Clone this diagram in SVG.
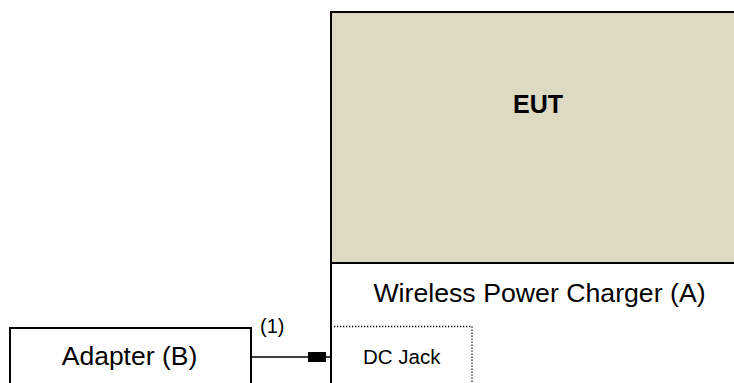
<svg xmlns="http://www.w3.org/2000/svg" width="734" height="383" viewBox="0 0 734 383">
<style>
.box{fill:#fff;stroke:#000;stroke-width:2}
.t{font-family:"Liberation Sans",Arial,sans-serif;fill:#000}
</style>
<rect width="734" height="383" fill="#fff"/>
<g id="charger">
<rect class="box" x="331" y="263" width="420" height="140"/>
<text class="t" x="539.5" y="302" font-size="26.7" text-anchor="middle">Wireless Power Charger (A)</text>
</g>
<g id="eut">
<rect class="box" x="331" y="12" width="420" height="251" style="fill:#ddd9c3"/>
<text class="t" x="538" y="113" font-size="25" font-weight="bold" text-anchor="middle">EUT</text>
</g>
<g id="dcjack">
<path d="M334 326.5H472V383" fill="none" stroke="#000" stroke-width="1.3" stroke-dasharray="1.3 1.7"/>
<text class="t" x="363" y="364" font-size="20.5">DC Jack</text>
</g>
<g id="adapter">
<rect class="box" x="10" y="328" width="241" height="80"/>
<text class="t" x="129.5" y="365" font-size="26.5" text-anchor="middle">Adapter (B)</text>
</g>
<g id="connectors">
<line x1="251" y1="357" x2="331" y2="357" stroke="#000" stroke-width="1.5"/>
<rect x="308" y="352" width="18" height="10" fill="#000"/>
<text class="t" x="260" y="333" font-size="20">(1)</text>
</g>
</svg>
